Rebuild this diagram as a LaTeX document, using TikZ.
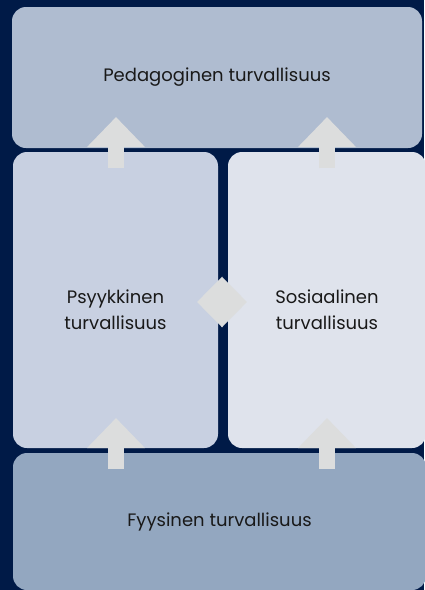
\documentclass[tikz,border=0pt]{standalone}
\usepackage{fontspec}
\setmainfont{Poppins}
\usepackage{tikz}
\usetikzlibrary{arrows.meta}
\definecolor{navy}{HTML}{001A47}
\definecolor{pedcol}{HTML}{AFBCD0}
\definecolor{psycol}{HTML}{C8D0E1}
\definecolor{soscol}{HTML}{DFE3EC}
\definecolor{fyycol}{HTML}{93A7C0}
\definecolor{arrowgray}{HTML}{DCDDDD}
\tikzstyle{box} = [rectangle, rounded corners=14pt, inner sep=0pt, text centered, align=center, text=black!90, font=\fontsize{18}{26}\selectfont]
\tikzstyle{tallbox} = [box, minimum height=296pt, text height=63pt, text depth=4pt]
\tikzstyle{uparrow} = [draw=arrowgray, line width=16pt, -{Triangle[width=56pt,length=30pt]}]
\tikzstyle{twoarrow} = [draw=arrowgray, line width=16pt, {Triangle[width=49pt,length=25pt]}-{Triangle[width=49pt,length=25pt]}]

\begin{document}
\begin{tikzpicture}[x=1pt,y=-1pt]

\fill[navy] (0,0) rectangle (424,590);
\useasboundingbox (0,0) rectangle (424,590);

\node (ped) [box, fill=pedcol, minimum width=410pt, minimum height=141pt] at (217,77.5) {Pedagoginen turvallisuus};
\node (psy) [tallbox, fill=psycol, minimum width=205pt] at (115.5,300) {Psyykkinen\\turvallisuus};
\node (sos) [tallbox, fill=soscol, minimum width=198pt] at (327,300) {Sosiaalinen\\turvallisuus};
\node (fyy) [box, fill=fyycol, minimum width=413pt, minimum height=137pt] at (219.5,521.5) {Fyysinen turvallisuus};

% arrow ends
\coordinate (psytop) at (116,168);
\coordinate (pedtip1) at (116,117);
\coordinate (sostop) at (327,168);
\coordinate (pedtip2) at (327,117);
\coordinate (fyytop1) at (116,469);
\coordinate (psytip) at (116,418);
\coordinate (fyytop2) at (327,469);
\coordinate (sostip) at (327,418);
\coordinate (midl) at (197,302);
\coordinate (midr) at (247,302);

\draw [uparrow] (psytop) -- (pedtip1);
\draw [uparrow] (sostop) -- (pedtip2);
\draw [uparrow] (fyytop1) -- (psytip);
\draw [uparrow] (fyytop2) -- (sostip);
\draw [twoarrow] (midl) -- (midr);
\end{tikzpicture}
\end{document}
